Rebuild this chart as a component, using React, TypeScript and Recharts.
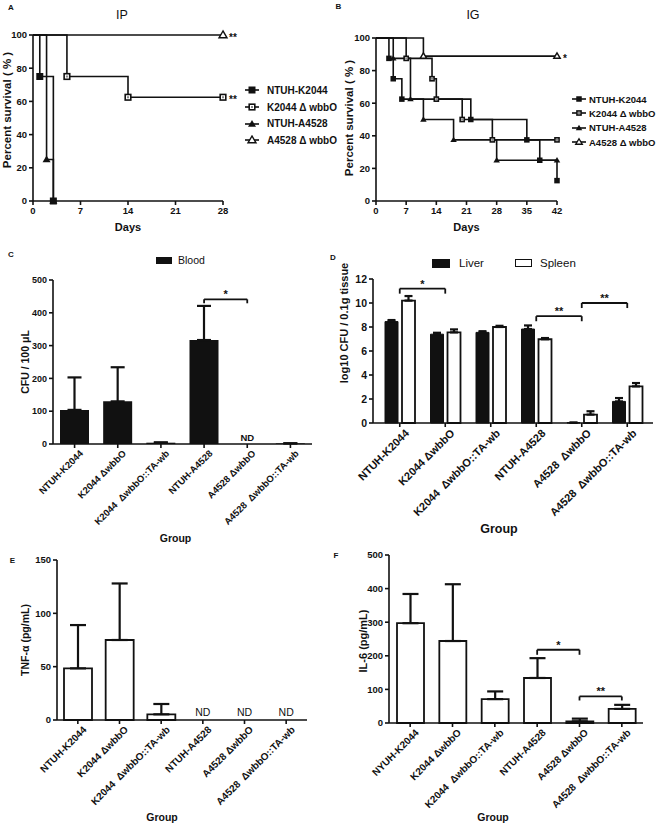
import React from "react";
import {
  LineChart,
  Line,
  XAxis,
  YAxis,
  BarChart,
  Bar,
  ErrorBar,
  ReferenceLine,
  ReferenceDot,
  Legend,
} from "recharts";

const FONT = '"Liberation Sans", Arial, Helvetica, sans-serif';
const INK = "#111";

// ---------- A / B: survival curves ----------
const strainNames = ["NTUH-K2044", "K2044 \u0394 wbbO", "NTUH-A4528", "A4528 \u0394 wbbO"];
const strainShapes = ["sqFilled", "sqOpen", "triFilled", "triOpen"];

const ipTicks = [0, 7, 14, 21, 28];
const igTicks = [0, 7, 14, 21, 28, 35, 42];
const pctTicks = [0, 20, 40, 60, 80, 100];

const ipK2044Days = [0, 1, 3];
const ipK2044Pct = [100, 75, 0];
const ipK2044dDays = [0, 5, 14, 28];
const ipK2044dPct = [100, 75, 62.5, 62.5];
const ipA4528Days = [0, 2, 3];
const ipA4528Pct = [100, 25, 0];
const ipA4528dDays = [0, 28];
const ipA4528dPct = [100, 100];
const ipStars = ["", "**", "", "**"];

const igK2044Days = [0, 3, 4, 6, 22, 35, 38, 42];
const igK2044Pct = [100, 87.5, 75, 62.5, 50, 37.5, 25, 12.5];
const igK2044dDays = [0, 7, 13, 14, 20, 27, 42];
const igK2044dPct = [100, 87.5, 75, 62.5, 50, 37.5, 37.5];
const igA4528Days = [0, 4, 8, 11, 18, 28, 42];
const igA4528Pct = [100, 87.5, 62.5, 50, 37.5, 25, 25];
const igA4528dDays = [0, 11, 42];
const igA4528dPct = [100, 88.9, 88.9];
const igStars = ["", "", "", "*"];

// ---------- C-F: bar panels ----------
const groups = [
  "NTUH-K2044",
  "K2044 \u0394wbbO",
  "K2044  \u0394wbbO::TA-wb",
  "NTUH-A4528",
  "A4528 \u0394wbbO",
  "A4528  \u0394wbbO::TA-wb",
];
const groupsD = [
  "NTUH-K2044",
  "K2044 \u0394wbbO",
  "K2044  \u0394wbbO::TA-wb",
  "NTUH-A4528",
  "A4528  \u0394wbbO",
  "A4528  \u0394wbbO::TA-wb",
];
const groupsF = [
  "NYUH-K2044",
  "K2044 \u0394wbbO",
  "K2044  \u0394wbbO::TA-wb",
  "NTUH-A4528",
  "A4528 \u0394wbbO",
  "A4528  \u0394wbbO::TA-wb",
];

const bloodMean = [104, 130, 4, 317, 0, 2];
const bloodErr = [99, 104, 1, 104, 0, 0];
const bloodNd = ["", "", "", "", "ND", ""];
const bloodTicks = [0, 100, 200, 300, 400, 500];

const liverMean = [8.45, 7.4, 7.55, 7.83, 0.03, 1.8];
const liverErr = [0.13, 0.12, 0.1, 0.3, 0, 0.28];
const spleenMean = [10.2, 7.55, 8.0, 6.98, 0.7, 3.05];
const spleenErr = [0.38, 0.25, 0.1, 0.1, 0.28, 0.28];
const tissueTicks = [0, 2, 4, 6, 8, 10, 12];

const tnfMean = [48.4, 75, 5.3, 0, 0, 0];
const tnfErr = [40.6, 53, 9.7, 0, 0, 0];
const tnfNd = ["", "", "", "ND", "ND", "ND"];
const tnfTicks = [0, 50, 100, 150];

const il6Mean = [297, 244, 71, 134, 5, 42];
const il6Err = [87, 169, 23, 59, 8, 12];
const il6Ticks = [0, 100, 200, 300, 400, 500];

type Sig = { from: number; to: number; at: number; drop: number; text: string };
const bloodSig: Sig[] = [{ from: 3, to: 4, at: 441, drop: 12, text: "*" }];
const tissueSig: Sig[] = [
  { from: 0, to: 1, at: 11.2, drop: 0.42, text: "*" },
  { from: 3, to: 4, at: 8.9, drop: 0.42, text: "**" },
  { from: 4, to: 5, at: 10.0, drop: 0.42, text: "**" },
];
const il6Sig: Sig[] = [
  { from: 3, to: 4, at: 218, drop: 15, text: "*" },
  { from: 4, to: 5, at: 79, drop: 12, text: "**" },
];

const toSeries = (days: number[], pct: number[]) => days.map((d, i) => ({ day: d, pct: pct[i] }));

function Marker({ shape, x, y, size }: { shape: string; x: number; y: number; size: number }) {
  const h = size / 2;
  if (shape === "sqFilled")
    return <rect x={x - h} y={y - h} width={size} height={size} fill={INK} />;
  if (shape === "sqOpen")
    return (
      <g>
        <rect x={x - h + 0.7} y={y - h + 0.7} width={size - 1.4} height={size - 1.4} fill="#fff" stroke={INK} strokeWidth={1.6} />
        <rect x={x - 1} y={y - 1} width={2} height={2} fill="#888" />
      </g>
    );
  const pts = `${x},${y - h - 0.5} ${x - h - 0.5},${y + h * 0.8} ${x + h + 0.5},${y + h * 0.8}`;
  if (shape === "triFilled") return <polygon points={pts} fill={INK} />;
  return <polygon points={pts} fill="#fff" stroke={INK} strokeWidth={1.4} />;
}

const kmDot = (shape: string, size: number, star: string, last: number) => (p: any) => {
  const { cx, cy, index } = p;
  if (index === 0 || cx == null || cy == null) return <g key={`e${index}`} />;
  return (
    <g key={`m${index}`}>
      <Marker shape={shape} x={cx} y={cy} size={size} />
      {star && index === last ? (
        <text x={cx + 6} y={cy + 6} fontSize={10} fontWeight={700} fill={INK} fontFamily={FONT}>
          {star}
        </text>
      ) : null}
    </g>
  );
};

const axisLine = { stroke: INK, strokeWidth: 1.6 };

const yLabel = (value: string, dx: number, dy: number, fontSize: number) => ({
  value,
  angle: -90,
  position: "center" as const,
  dx,
  dy,
  fill: INK,
  fontSize,
  fontWeight: 700,
  fontFamily: FONT,
});

function SurvivalChart(props: {
  series: { days: number[]; pct: number[] }[];
  stars: string[];
  ticks: number[];
  xMax: number;
  margin: any;
  yWidth: number;
  yDx: number;
  yDy: number;
  size: number;
  legendLeft: number;
  legendTop: number;
  rowH: number;
  textGap: number;
  legendFont: number;
}) {
  const order = [2, 3, 1, 0];
  return (
    <LineChart width={331} height={260} margin={props.margin}>
      <XAxis
        type="number"
        dataKey="day"
        domain={[0, props.xMax]}
        ticks={props.ticks}
        interval={0}
        height={30}
        tickSize={4}
        tickMargin={2}
        axisLine={axisLine}
        tickLine={axisLine}
        tick={{ fill: INK, fontSize: 9.5, fontWeight: 700, fontFamily: FONT }}
        label={{ value: "Days", position: "insideBottom", offset: 0, fill: INK, fontSize: 11, fontWeight: 700, fontFamily: FONT }}
      />
      <YAxis
        type="number"
        domain={[0, 100]}
        ticks={pctTicks}
        interval={0}
        width={props.yWidth}
        tickSize={4}
        tickMargin={2}
        axisLine={axisLine}
        tickLine={axisLine}
        tick={{ fill: INK, fontSize: 9.5, fontWeight: 700, fontFamily: FONT }}
        label={yLabel("Percent survival ( % )", props.yDx, props.yDy, 11.5)}
      />
      {order.map((i) => {
        const s = props.series[i];
        return (
          <Line
            key={strainNames[i]}
            name={strainNames[i]}
            data={toSeries(s.days, s.pct)}
            dataKey="pct"
            type="stepAfter"
            stroke={INK}
            strokeWidth={1.6}
            dot={kmDot(strainShapes[i], props.size, props.stars[i], s.days.length - 1)}
            activeDot={false}
            isAnimationActive={false}
          />
        );
      })}
      <Legend
        layout="vertical"
        align="center"
        verticalAlign="middle"
        wrapperStyle={{ left: props.legendLeft, top: props.legendTop, width: 95 }}
        content={() => (
          <div style={{ fontFamily: FONT }}>
            {strainNames.map((n, i) => (
              <div key={n} style={{ display: "flex", alignItems: "center", height: props.rowH }}>
                <svg width={14} height={10} style={{ flex: "none" }}>
                  <line x1={0} y1={5} x2={14} y2={5} stroke={INK} strokeWidth={1.6} />
                  <Marker shape={strainShapes[i]} x={7} y={5} size={props.size} />
                </svg>
                <span style={{ marginLeft: props.textGap, fontSize: props.legendFont, fontWeight: 700, color: INK, whiteSpace: "pre" }}>{n}</span>
              </div>
            ))}
          </div>
        )}
      />
    </LineChart>
  );
}

function SlantTick(props: any) {
  const { x, y, payload, fontSize } = props;
  return (
    <g transform={`translate(${x + 3},${y})`}>
      <text
        x={0}
        y={0}
        dy={fontSize * 0.9}
        textAnchor="end"
        transform="rotate(-45)"
        fill={INK}
        fontSize={fontSize}
        fontWeight={700}
        fontFamily={FONT}
        style={{ whiteSpace: "pre" }}
      >
        {payload.value}
      </text>
    </g>
  );
}

function sigLines(sigs: Sig[], cats: string[], fontSize: number, prefix: string) {
  const out: React.ReactElement[] = [];
  sigs.forEach((s, i) => {
    const a = cats[s.from];
    const b = cats[s.to];
    out.push(
      <ReferenceLine
        key={`${prefix}h${i}`}
        segment={[{ x: a, y: s.at }, { x: b, y: s.at }]}
        stroke={INK}
        strokeWidth={1.8}
        ifOverflow="visible"
        label={{ value: s.text, position: "top", offset: 1, fill: INK, fontSize, fontWeight: 700, fontFamily: FONT }}
      />
    );
    out.push(
      <ReferenceLine key={`${prefix}l${i}`} segment={[{ x: a, y: s.at }, { x: a, y: s.at - s.drop }]} stroke={INK} strokeWidth={1.8} ifOverflow="visible" />
    );
    out.push(
      <ReferenceLine key={`${prefix}r${i}`} segment={[{ x: b, y: s.at }, { x: b, y: s.at - s.drop }]} stroke={INK} strokeWidth={1.8} ifOverflow="visible" />
    );
  });
  return out;
}

function ndMarks(cats: string[], flags: string[], fontSize: number, weight: number, offset: number, prefix: string) {
  return cats.map((g, i) =>
    flags[i] ? (
      <ReferenceDot
        key={`${prefix}${i}`}
        x={g}
        y={0}
        r={0}
        fill="none"
        stroke="none"
        ifOverflow="visible"
        label={{ value: flags[i], position: "top", offset, fill: INK, fontSize, fontWeight: weight, fontFamily: FONT }}
      />
    ) : null
  );
}

const bloodData = groups.map((g, i) => ({ group: g, blood: bloodMean[i], err: [0, bloodErr[i]] }));
const tissueData = groupsD.map((g, i) => ({
  group: g,
  liver: liverMean[i],
  liverErr: [0, liverErr[i]],
  spleen: spleenMean[i],
  spleenErr: [0, spleenErr[i]],
}));
const tnfData = groups.map((g, i) => ({ group: g, tnf: tnfMean[i], err: [0, tnfErr[i]] }));
const il6Data = groupsF.map((g, i) => ({ group: g, il6: il6Mean[i], err: [0, il6Err[i]] }));

const groupLabel = (dx: number, fontSize: number) => ({
  value: "Group",
  position: "insideBottom" as const,
  offset: 2,
  dx,
  fill: INK,
  fontSize,
  fontWeight: 700,
  fontFamily: FONT,
});

function BloodChart() {
  return (
    <BarChart width={331} height={300} data={bloodData} margin={{ top: 35, right: 19, bottom: 1, left: 0 }}>
      <XAxis
        dataKey="group"
        interval={0}
        height={100}
        tickSize={4}
        tickMargin={0}
        axisLine={axisLine}
        tickLine={axisLine}
        tick={<SlantTick fontSize={9.5} />}
        label={groupLabel(-7, 10.5)}
      />
      <YAxis
        domain={[0, 500]}
        ticks={bloodTicks}
        interval={0}
        width={53}
        tickSize={4}
        tickMargin={2}
        axisLine={axisLine}
        tickLine={axisLine}
        tick={{ fill: INK, fontSize: 9, fontWeight: 700, fontFamily: FONT }}
        label={yLabel("CFU / 100 \u03bcL", -1.5, 0, 10.5)}
      />
      <Bar dataKey="blood" name="Blood" fill={INK} barSize={29} isAnimationActive={false}>
        <ErrorBar dataKey="err" direction="y" width={7} stroke={INK} strokeWidth={2.2} />
      </Bar>
      {sigLines(bloodSig, groups, 11, "c")}
      {ndMarks(groups, bloodNd, 9.5, 700, 3, "cn")}
      <Legend
        layout="vertical"
        align="center"
        verticalAlign="middle"
        wrapperStyle={{ left: 156, top: 9, width: 80 }}
        content={() => (
          <div style={{ display: "flex", alignItems: "center", height: 12, fontFamily: FONT }}>
            <span style={{ display: "inline-block", width: 16, height: 7, background: INK }} />
            <span style={{ marginLeft: 6, fontSize: 10.5, color: INK }}>Blood</span>
          </div>
        )}
      />
    </BarChart>
  );
}

function TissueChart() {
  return (
    <BarChart width={331} height={300} data={tissueData} margin={{ top: 34, right: 9, bottom: 12, left: 0 }} barSize={13} barGap={4}>
      <XAxis
        dataKey="group"
        interval={0}
        height={110}
        tickSize={4}
        tickMargin={0}
        padding={{ left: 4, right: 3 }}
        axisLine={axisLine}
        tickLine={axisLine}
        tick={<SlantTick fontSize={11} />}
        label={{ ...groupLabel(-14, 12.5), offset: 0 }}
      />
      <YAxis
        domain={[0, 12]}
        ticks={tissueTicks}
        interval={0}
        width={42}
        tickSize={4}
        tickMargin={2}
        axisLine={axisLine}
        tickLine={axisLine}
        tick={{ fill: INK, fontSize: 10.5, fontWeight: 700, fontFamily: FONT }}
        label={yLabel("log10 CFU / 0.1g tissue", -8, -28, 11)}
      />
      <Bar dataKey="liver" name="Liver" fill={INK} stroke={INK} strokeWidth={1} isAnimationActive={false}>
        <ErrorBar dataKey="liverErr" direction="y" width={4} stroke={INK} strokeWidth={2.2} />
      </Bar>
      <Bar dataKey="spleen" name="Spleen" fill="#fff" stroke={INK} strokeWidth={1.8} isAnimationActive={false}>
        <ErrorBar dataKey="spleenErr" direction="y" width={4} stroke={INK} strokeWidth={2.2} />
      </Bar>
      {sigLines(tissueSig, groupsD, 11, "d")}
      <Legend
        layout="vertical"
        align="center"
        verticalAlign="middle"
        wrapperStyle={{ left: 101, top: 11, width: 170 }}
        content={() => (
          <div style={{ display: "flex", alignItems: "center", height: 14, fontFamily: FONT }}>
            <span style={{ display: "inline-block", width: 18, height: 9, background: INK }} />
            <span style={{ marginLeft: 9, width: 56, fontSize: 11.5, color: INK }}>Liver</span>
            <span style={{ display: "inline-block", width: 15, height: 6, background: "#fff", border: `1.5px solid ${INK}` }} />
            <span style={{ marginLeft: 8, fontSize: 11.5, color: INK }}>Spleen</span>
          </div>
        )}
      />
    </BarChart>
  );
}

function TnfChart() {
  return (
    <BarChart width={331} height={280} data={tnfData} margin={{ top: 15, right: 24, bottom: 2, left: 0 }}>
      <XAxis
        dataKey="group"
        interval={0}
        height={103}
        tickSize={4}
        tickMargin={0}
        axisLine={axisLine}
        tickLine={axisLine}
        tick={<SlantTick fontSize={10} />}
        label={groupLabel(-20, 10.5)}
      />
      <YAxis
        domain={[0, 150]}
        ticks={tnfTicks}
        interval={0}
        width={57}
        tickSize={4}
        tickMargin={2}
        axisLine={axisLine}
        tickLine={axisLine}
        tick={{ fill: INK, fontSize: 9.5, fontWeight: 700, fontFamily: FONT }}
        label={yLabel("TNF-\u03b1 (pg/mL)", -3.5, 0, 10.5)}
      />
      <Bar dataKey="tnf" fill="#fff" stroke={INK} strokeWidth={1.8} barSize={28} isAnimationActive={false}>
        <ErrorBar dataKey="err" direction="y" width={8} stroke={INK} strokeWidth={2.2} />
      </Bar>
      {ndMarks(groups, tnfNd, 10.5, 400, 4, "en")}
    </BarChart>
  );
}

function Il6Chart() {
  return (
    <BarChart width={331} height={280} data={il6Data} margin={{ top: 10, right: 19, bottom: 2, left: 0 }}>
      <XAxis
        dataKey="group"
        interval={0}
        height={100}
        tickSize={4}
        tickMargin={0}
        axisLine={axisLine}
        tickLine={axisLine}
        tick={<SlantTick fontSize={10} />}
        label={groupLabel(-23, 10.5)}
      />
      <YAxis
        domain={[0, 500]}
        ticks={il6Ticks}
        interval={0}
        width={58}
        tickSize={4}
        tickMargin={2}
        axisLine={axisLine}
        tickLine={axisLine}
        tick={{ fill: INK, fontSize: 9.5, fontWeight: 700, fontFamily: FONT }}
        label={yLabel("IL-6 (pg/mL)", 2.7, 2, 11)}
      />
      <Bar dataKey="il6" fill="#fff" stroke={INK} strokeWidth={1.8} barSize={27} isAnimationActive={false}>
        <ErrorBar dataKey="err" direction="y" width={8} stroke={INK} strokeWidth={2.2} />
      </Bar>
      {sigLines(il6Sig, groupsF, 11, "f")}
    </BarChart>
  );
}

function Text({ x, y, children, size, weight }: { x: number; y: number; children: React.ReactNode; size: number; weight: number }) {
  return (
    <div
      style={{
        position: "absolute",
        left: x,
        top: y,
        transform: "translate(-50%, -50%)",
        fontSize: size,
        fontWeight: weight,
        fontFamily: FONT,
        color: INK,
        lineHeight: 1,
        whiteSpace: "nowrap",
      }}
    >
      {children}
    </div>
  );
}

const box = (left: number, top: number): React.CSSProperties => ({ position: "absolute", left, top });

export default function App() {
  const ipSeries = [
    { days: ipK2044Days, pct: ipK2044Pct },
    { days: ipK2044dDays, pct: ipK2044dPct },
    { days: ipA4528Days, pct: ipA4528Pct },
    { days: ipA4528dDays, pct: ipA4528dPct },
  ];
  const igSeries = [
    { days: igK2044Days, pct: igK2044Pct },
    { days: igK2044dDays, pct: igK2044dPct },
    { days: igA4528Days, pct: igA4528Pct },
    { days: igA4528dDays, pct: igA4528dPct },
  ];
  return (
    <div style={{ position: "absolute", left: 0, top: 0, width: 662, height: 825, background: "#fff", overflow: "hidden" }}>
      <div style={box(0, 0)}>
        <SurvivalChart
          series={ipSeries}
          stars={ipStars}
          ticks={ipTicks}
          xMax={28}
          margin={{ top: 35, right: 108, bottom: 29, left: 0 }}
          yWidth={33}
          yDx={-9.5}
          yDy={-8}
          size={7}
          legendLeft={245}
          legendTop={82}
          rowH={16.7}
          textGap={8}
          legendFont={10}
        />
      </div>
      <div style={box(331, 0)}>
        <SurvivalChart
          series={igSeries}
          stars={igStars}
          ticks={igTicks}
          xMax={42}
          margin={{ top: 38, right: 105, bottom: 29, left: 0 }}
          yWidth={45}
          yDx={-4.5}
          yDy={-1.5}
          size={5.5}
          legendLeft={241}
          legendTop={92}
          rowH={14.3}
          textGap={3}
          legendFont={9.5}
        />
      </div>
      <div style={box(0, 245)}>
        <BloodChart />
      </div>
      <div style={box(331, 245)}>
        <TissueChart />
      </div>
      <div style={box(0, 545)}>
        <TnfChart />
      </div>
      <div style={box(331, 545)}>
        <Il6Chart />
      </div>

      <Text x={11} y={7.5} size={8} weight={700}>A</Text>
      <Text x={338.5} y={7} size={8} weight={700}>B</Text>
      <Text x={11} y={255} size={8} weight={700}>C</Text>
      <Text x={333} y={257.5} size={8} weight={700}>D</Text>
      <Text x={12.5} y={561} size={8} weight={700}>E</Text>
      <Text x={336} y={556} size={8} weight={700}>F</Text>
      <Text x={122} y={15} size={12.5} weight={400}>IP</Text>
      <Text x={473} y={15} size={12.5} weight={400}>IG</Text>
    </div>
  );
}
